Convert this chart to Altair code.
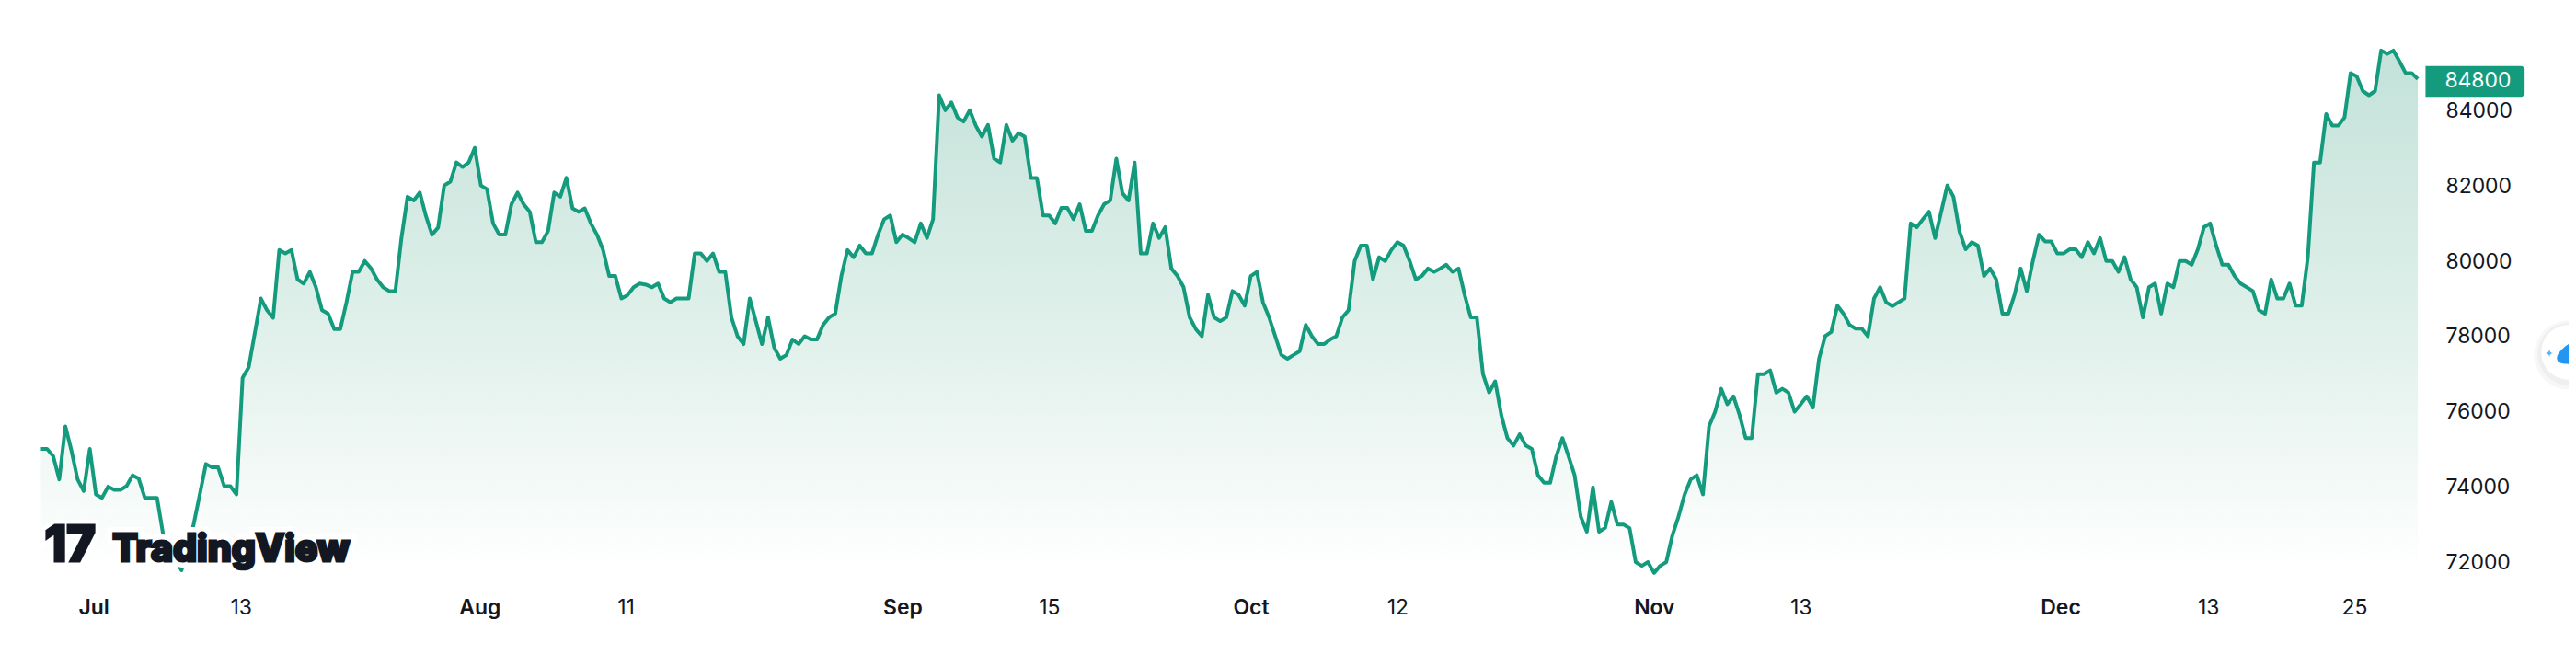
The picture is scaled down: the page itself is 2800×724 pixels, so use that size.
import json

import altair as alt
import pandas as pd

# ceny, po úsecích zleva doprava
jul_aug = [
    75010, 75010, 74820, 74200, 75610, 74960, 74200, 73890, 75010, 73800,
    73710, 74010, 73920, 73920, 74020, 74310, 74220, 73710, 73710, 73710,
    72730, 72170, 72060, 71780, 72340, 73010, 73800, 74610, 74520, 74520,
    74020, 74020, 73800, 76900, 77180, 78090, 79010, 78700, 78500, 80300,
    80210, 80300, 79520, 79410, 79720, 79310, 78700, 78610, 78200, 78200,
    78910, 79720, 79720, 80010, 79820, 79520, 79310, 79210, 79210, 80620,
    81720, 81620, 81830, 81210, 80710, 80900, 82020, 82120, 82630, 82510,
    82630, 83020, 82020, 81920, 81010, 80710, 80710, 81520, 81830, 81520,
    81320, 80510, 80510, 80810, 81830, 81720, 82220, 81410, 81320, 81410,
    81010, 80710, 80300, 79610, 79610, 79010, 79100, 79310, 79410,
]
aug_oct = [
    79380, 79310, 79410, 79010, 78910, 79010, 79010, 79010, 80210, 80210,
    80010, 80210, 79720, 79720, 78510, 78010, 77800, 79010, 78410, 77800,
    78510, 77710, 77410, 77510, 77920, 77800, 78010, 77920, 77920, 78310,
    78510, 78610, 79610, 80300, 80110, 80420, 80210, 80210, 80710, 81120,
    81220, 80510, 80710, 80620, 80510, 81010, 80620, 81120, 84420, 84020,
    84230, 83830, 83720, 84020, 83610, 83320, 83630, 82730, 82630, 83630,
    83210, 83410, 83320, 82220, 82220, 81220, 81220, 81010, 81420, 81420,
    81120, 81520, 80810, 80810, 81220, 81520, 81620, 82730, 81810, 81620,
    82630, 80210, 80210, 81010, 80620, 80910, 79810, 79610, 79310, 78510,
    78200, 78010, 79110, 78510, 78410, 78510, 79210, 79110, 78820, 79610,
    79720, 78910, 78510, 78010, 77510,
]
oct_nov = [
    77410, 77510, 77610, 78310, 78010, 77800, 77800, 77920, 78010, 78510,
    78700, 80010, 80420, 80420, 79520, 80110, 80010, 80300, 80510, 80420,
    80010, 79520, 79610, 79810, 79720, 79810, 79910, 79720, 79810, 79110,
    78510, 78510, 77000, 76510, 76810, 75910, 75300, 75100, 75400, 75100,
    75010, 74310, 74110, 74110, 74820, 75300, 74820, 74310, 73210, 72810,
    73990, 72810, 72910, 73600, 73000, 73000, 72900, 72000, 71900, 72000,
    71710, 71900, 72000, 72710, 73210, 73800, 74200, 74310, 73800, 75610,
    76000, 76610, 76200, 76410, 75910, 75300, 75300, 77000, 77000, 77100,
    76510, 76610, 76510, 76000, 76200, 76410, 76110, 77410, 78010, 78120,
    78820, 78610, 78310, 78210, 78210, 78010, 79010, 79310, 78910, 78810,
    78910, 79010, 81010, 80910, 81120,
]
nov_dec = [
    81320, 80620, 81320, 82020, 81720, 80790, 80320, 80510, 80420, 79610,
    79810, 79520, 78610, 78610, 79110, 79810, 79210, 80010, 80710, 80530,
    80530, 80210, 80210, 80320, 80320, 80110, 80510, 80210, 80620, 80010,
    80010, 79720, 80110, 79520, 79310, 78510, 79310, 79410, 78610, 79410,
    79310, 80010, 80010, 79910, 80320, 80910, 81010, 80420, 79910, 79910,
    79610, 79410, 79310, 79210, 78700, 78610, 79520, 79010, 79010, 79410,
    78820, 78820, 80110, 82630, 82630, 83920, 83610, 83610, 83830, 85010,
    84920, 84530, 84420, 84530, 85610, 85520, 85610, 85320, 85010, 85010,
    84850,
]
prices = jul_aug + aug_oct + oct_nov + nov_dec
last_price = 84800

x_ticks = [8.6, 32.7, 71.8, 95.7, 141, 165, 198, 222, 264, 288, 330.5, 354.7, 378.6]
x_labels = ["Jul", "13", "Aug", "11", "Sep", "15", "Oct", "12", "Nov", "13", "Dec", "13", "25"]
y_ticks = [72000, 74000, 76000, 78000, 80000, 82000, 84000]

GREEN = "#149b7e"
INK = "#131722"
FONT = "Inter"

W, H = 2591, 620
y_base = 71311
y_scale = alt.Scale(domain=[y_base, 86440], nice=False, zero=False)
x_scale = alt.Scale(domain=[0, len(prices) - 1], nice=False, zero=False)

df = pd.DataFrame({"i": range(len(prices)), "price": prices, "base": y_base})
one = pd.DataFrame({"i": [0]})

label_map = json.dumps({str(p): t for p, t in zip(x_ticks, x_labels)})
month_ticks = json.dumps([p for p, t in zip(x_ticks, x_labels) if not t.isdigit()])

x_axis = alt.Axis(
    values=x_ticks,
    labelExpr=f"{label_map}[datum.value]",
    labelFontWeight={"condition": {"test": f"indexof({month_ticks}, datum.value) >= 0", "value": 600}, "value": 400},
    title=None, grid=False, domain=False, ticks=False,
    labelPadding=10, labelFontSize=23, labelFont=FONT, labelColor=INK,
    labelOverlap=False, labelFlush=False,
)
y_axis = alt.Axis(
    values=y_ticks, format="d", orient="right",
    title=None, grid=False, domain=False, ticks=False,
    labelPadding=30, labelFontSize=23, labelFont=FONT, labelColor=INK,
    labelAlign="left", labelBaseline="middle", labelOverlap=False,
)

fill = alt.Gradient(
    gradient="linear",
    stops=[
        alt.GradientStop(color="#c3e2d9", offset=0),
        alt.GradientStop(color="#e2f1ec", offset=0.55),
        alt.GradientStop(color="#ffffff", offset=0.97),
    ],
    x1=1, x2=1, y1=0, y2=1,
)

area = alt.Chart(df).mark_area(color=fill, interpolate="linear").encode(
    x=alt.X("i:Q", scale=x_scale, axis=x_axis),
    y=alt.Y("price:Q", scale=y_scale, axis=y_axis),
    y2="base:Q",
)
line = alt.Chart(df).mark_line(color=GREEN, strokeWidth=4, strokeJoin="round").encode(
    x=alt.X("i:Q", scale=x_scale, axis=x_axis),
    y=alt.Y("price:Q", scale=y_scale, axis=y_axis),
)

# cenovka poslední hodnoty
tag = alt.Chart(pd.DataFrame({"a": [last_price - 420], "b": [last_price + 400]})).mark_rect(
    color=GREEN, cornerRadiusTopRight=4, cornerRadiusBottomRight=4
).encode(
    x=alt.value(2599.4), x2=alt.value(2707.4),
    y=alt.Y("a:Q", scale=y_scale, axis=y_axis), y2="b:Q",
)
tag_text = alt.Chart(pd.DataFrame({"v": [last_price]})).mark_text(
    color="white", font=FONT, fontSize=23, align="left", baseline="middle"
).encode(
    x=alt.value(2620.4), y=alt.Y("v:Q", scale=y_scale, axis=y_axis), text=alt.Text("v:Q", format="d"),
)


def logo(text, x, size, stroke_color, stroke_w):
    return alt.Chart(one).mark_text(
        text=text, font=FONT, fontWeight=800, fontSize=size, color=INK,
        align="left", baseline="alphabetic",
        stroke=stroke_color, strokeWidth=stroke_w,
    ).encode(x=alt.value(x), y=alt.value(591))


# logo TradingView vlevo dole
logos = (
    logo("17", 4, 54, "white", 12)
    + logo("TradingView", 78, 41, "white", 14)
    + logo("17", 4, 54, INK, 3)
    + logo("TradingView", 78, 41, INK, 3)
)

# kulatý widget na pravém okraji
widget = (
    alt.Chart(one).mark_point(filled=True, color="#000000", opacity=0.03, size=5700).encode(
        x=alt.value(2755.4), y=alt.value(366))
    + alt.Chart(one).mark_point(filled=True, color="#000000", opacity=0.03, size=4600).encode(
        x=alt.value(2755.4), y=alt.value(365))
    + alt.Chart(one).mark_point(filled=True, color="white", opacity=1, size=3570).encode(
        x=alt.value(2755.4), y=alt.value(363))
    + alt.Chart(one).mark_point(
        filled=True, color="#2196f3", opacity=1, size=650,
        shape="M0.6,-1 C0.2,-0.9 -1,-0.1 -1,0.5 C-1,1 -0.4,1 0,1 C0.8,1 1,0.4 1,0 L1,-1 Z",
    ).encode(x=alt.value(2755.4), y=alt.value(363))
    + alt.Chart(one).mark_point(
        filled=True, color="#5ab4f0", opacity=1, size=90,
        shape="M0,-1 Q0,0 1,0 Q0,0 0,1 Q0,0 -1,0 Q0,0 0,-1 Z",
    ).encode(x=alt.value(2734.4), y=alt.value(364))
)

chart = alt.layer(area, line, logos, tag, tag_text, widget).properties(
    width=W, height=H, background="white",
    padding={"left": 36.6, "top": 12, "right": 164.4, "bottom": 60},
    autosize=alt.AutoSizeParams(type="none"),
).configure_view(stroke=None)

chart.save("out.html", embed_options={"renderer": "svg", "actions": False})
